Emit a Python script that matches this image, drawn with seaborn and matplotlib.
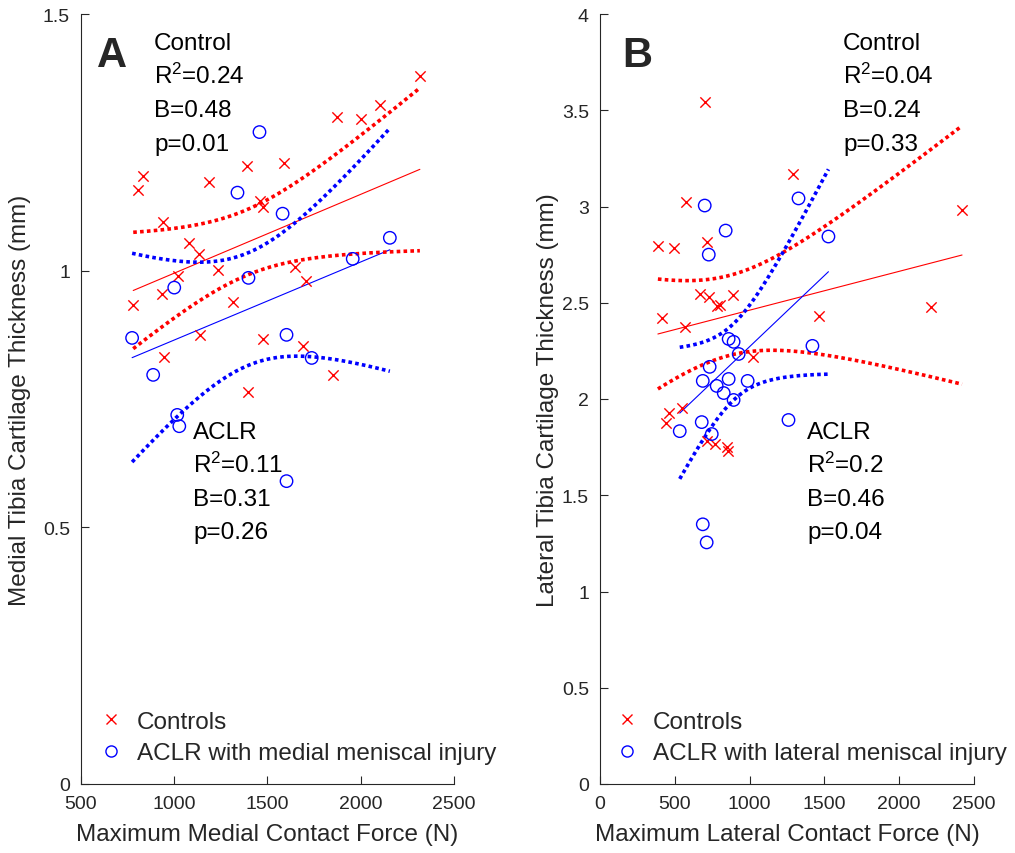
import numpy as np
import pandas as pd
import matplotlib
matplotlib.use("Agg")
import matplotlib.pyplot as plt
import seaborn as sns
from matplotlib.lines import Line2D

# ---------------- data ----------------
a_ctrl_x = [780, 807, 833, 935, 941, 946, 1021, 1081, 1134, 1140, 1188, 1237, 1317, 1392,
            1398, 1462, 1478, 1478, 1586, 1650, 1693, 1704, 1849, 1871, 2000, 2102, 2317]
a_ctrl_y = [0.934, 1.158, 1.184, 0.955, 1.094, 0.832, 0.990, 1.053, 1.033, 0.875, 1.172,
            1.002, 0.939, 1.203, 0.764, 1.135, 1.125, 0.867, 1.209, 1.008, 0.854, 0.979,
            0.797, 1.299, 1.295, 1.322, 1.379]
a_aclr_x = [774, 887, 1000, 1016, 1027, 1339, 1398, 1457, 1581, 1602, 1602, 1737, 1957, 2156]
a_aclr_y = [0.869, 0.797, 0.967, 0.719, 0.697, 1.152, 0.986, 1.270, 1.111, 0.875, 0.590,
            0.830, 1.023, 1.064]

b_ctrl_x = [387, 413, 440, 460, 493, 547, 567, 573, 667, 700, 713, 713, 727, 767, 780, 800,
            847, 853, 887, 1020, 1293, 1467, 2213, 2420]
b_ctrl_y = [2.797, 2.422, 1.875, 1.927, 2.786, 1.953, 2.375, 3.021, 2.547, 3.542, 2.818,
            1.781, 2.531, 1.766, 2.484, 2.490, 1.750, 1.729, 2.542, 2.219, 3.167, 2.432,
            2.479, 2.984]
b_aclr_x = [533, 680, 687, 687, 700, 713, 727, 733, 747, 780, 827, 840, 860, 860, 893, 893,
            927, 987, 1260, 1327, 1420, 1527]
b_aclr_y = [1.833, 1.880, 2.094, 1.349, 3.005, 1.255, 2.750, 2.167, 1.818, 2.068, 2.031,
            2.875, 2.104, 2.312, 2.297, 1.995, 2.234, 2.094, 1.891, 3.042, 2.276, 2.844]

a_xticks = [500, 1000, 1500, 2000, 2500]
a_yticks = [0, 0.5, 1, 1.5]
a_yticklabels = ["0", "0.5", "1", "1.5"]
b_xticks = [0, 500, 1000, 1500, 2000, 2500]
b_yticks = [0, 0.5, 1, 1.5, 2, 2.5, 3, 3.5, 4]
b_yticklabels = ["0", "0.5", "1", "1.5", "2", "2.5", "3", "3.5", "4"]

a_ctrl_stats = ["Control", "R$^2$=0.24", "B=0.48", "p=0.01"]
a_aclr_stats = ["ACLR", "R$^2$=0.11", "B=0.31", "p=0.26"]
b_ctrl_stats = ["Control", "R$^2$=0.04", "B=0.24", "p=0.33"]
b_aclr_stats = ["ACLR", "R$^2$=0.2", "B=0.46", "p=0.04"]

# ---------------- style ----------------
sns.set_theme(style="white")
plt.rcParams["font.family"] = ["Liberation Sans", "DejaVu Sans"]
plt.rcParams["mathtext.fontset"] = "custom"
plt.rcParams["mathtext.rm"] = "Liberation Sans"
plt.rcParams["mathtext.it"] = "Liberation Sans"

RED = (1, 0, 0)
BLUE = (0, 0, 1)
AXC = "#262626"
W, H = 1015, 854
TXT = 17.5

fig = plt.figure(figsize=(W / 100, H / 100), dpi=100)


def px_axes(l, r, t, b):
    return fig.add_axes([l / W, (H - b) / H, (r - l) / W, (b - t) / H])


axA = px_axes(81, 454, 15, 785)
axB = px_axes(600, 974, 15, 785)


def tq(df):
    z = 1.959964
    g1 = (z**3 + z) / 4
    g2 = (5 * z**5 + 16 * z**3 + 3 * z) / 96
    g3 = (3 * z**7 + 19 * z**5 + 17 * z**3 - 15 * z) / 384
    return z + g1 / df + g2 / df**2 + g3 / df**3


def ci_curves(ax, x, y, color):
    x = np.asarray(x, float)
    y = np.asarray(y, float)
    n = len(x)
    b1, b0 = np.polyfit(x, y, 1)
    res = y - (b0 + b1 * x)
    s = np.sqrt(np.sum(res**2) / (n - 2))
    xm = x.mean()
    sxx = np.sum((x - xm) ** 2)
    xs = np.linspace(x.min(), x.max(), 200)
    yh = b0 + b1 * xs
    half = tq(n - 2) * s * np.sqrt(1 / n + (xs - xm) ** 2 / sxx)
    for yy in (yh + half, yh - half):
        ax.plot(xs, yy, color=color, lw=2.6, linestyle=(0, (1, 0.9)),
                dash_capstyle="butt", zorder=3)


def draw(ax, cx, cy, ax_x, ax_y):
    dfc = pd.DataFrame({"x": cx, "y": cy})
    dfa = pd.DataFrame({"x": ax_x, "y": ax_y})
    sns.regplot(data=dfc, x="x", y="y", ax=ax, ci=None, color=RED, marker="x",
                scatter_kws={"s": 55, "linewidths": 1.0, "alpha": 1, "zorder": 4},
                line_kws={"lw": 0.8, "zorder": 2})
    sns.regplot(data=dfa, x="x", y="y", ax=ax, ci=None, color=BLUE, marker="o",
                scatter_kws={"s": 80, "linewidths": 1.0, "alpha": 1, "facecolors": "none",
                             "zorder": 4},
                line_kws={"lw": 0.8, "zorder": 2})
    ci_curves(ax, cx, cy, RED)
    ci_curves(ax, ax_x, ax_y, BLUE)


draw(axA, a_ctrl_x, a_ctrl_y, a_aclr_x, a_aclr_y)
draw(axB, b_ctrl_x, b_ctrl_y, b_aclr_x, b_aclr_y)

for ax, xt, yt, ytl, xl, yl, ylx in (
    (axA, a_xticks, a_yticks, a_yticklabels,
     "Maximum Medial Contact Force (N)", "Medial Tibia Cartilage Thickness (mm)", -0.1635),
    (axB, b_xticks, b_yticks, b_yticklabels,
     "Maximum Lateral Contact Force (N)", "Lateral Tibia Cartilage Thickness (mm)", -0.139),
):
    ax.set_xlim(xt[0], xt[-1])
    ax.set_ylim(yt[0], yt[-1])
    ax.set_xticks(xt)
    ax.set_xticklabels([str(v) for v in xt])
    ax.set_yticks(yt)
    ax.set_yticklabels(ytl)
    ax.set_xlabel(xl, fontsize=TXT, color=AXC)
    ax.set_ylabel(yl, fontsize=TXT, color=AXC, va="center")
    ax.xaxis.set_label_coords(0.5, -0.051)
    ax.yaxis.set_label_coords(ylx, 0.5)
    for side in ("top", "right"):
        ax.spines[side].set_visible(False)
    for side in ("left", "bottom"):
        ax.spines[side].set_color(AXC)
        ax.spines[side].set_linewidth(0.8)
    ax.tick_params(direction="in", length=6, width=0.8, color=AXC, labelcolor=AXC,
                   labelsize=14, pad=8, left=True, bottom=True)
    ax.set_facecolor("white")


def px_text(ax, xpx, ypx, s, **kw):
    l, r = ax.get_position().x0 * W, ax.get_position().x1 * W
    t = H - ax.get_position().y1 * H
    b = H - ax.get_position().y0 * H
    fx = (xpx - l) / (r - l)
    fy = (b - ypx) / (b - t)
    ax.text(fx, fy, s, transform=ax.transAxes, **kw)


def stats_block(ax, xpx, y0, lines):
    for i, s in enumerate(lines):
        px_text(ax, xpx, y0 + i * 33.5, s, fontsize=TXT, color="black", va="baseline",
                ha="left")


px_text(axA, 97, 67, "A", fontsize=30, fontweight="bold", va="baseline")
px_text(axB, 622, 67, "B", fontsize=30, fontweight="bold", va="baseline")
stats_block(axA, 154, 50, a_ctrl_stats)
stats_block(axA, 193, 439, a_aclr_stats)
stats_block(axB, 843, 50, b_ctrl_stats)
stats_block(axB, 807, 439, b_aclr_stats)

for ax, lab, lx in ((axA, "ACLR with medial meniscal injury", 0.048),
                    (axB, "ACLR with lateral meniscal injury", 0.0396)):
    handles = [
        Line2D([], [], ls="none", marker="x", color=RED, ms=7, mew=1.0),
        Line2D([], [], ls="none", marker="o", mfc="none", mec=BLUE, ms=8, mew=1.0),
    ]
    ax.legend(handles, ["Controls", lab], loc="center left",
              bbox_to_anchor=(lx, 0.0604), frameon=False, fontsize=TXT,
              handlelength=1.0, handletextpad=0.57, labelspacing=0.4,
              borderpad=0.0, borderaxespad=0.0)

fig.savefig("out.png", dpi=100, facecolor="white")
